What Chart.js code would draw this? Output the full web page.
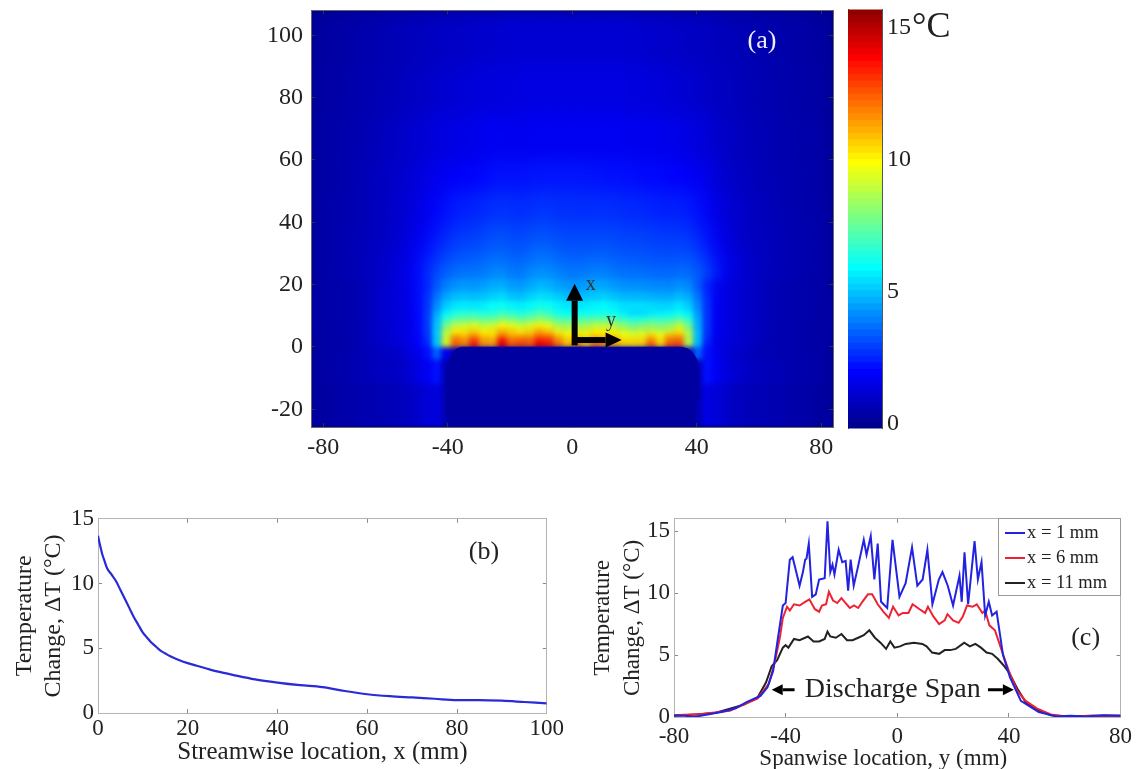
<!DOCTYPE html>
<html><head><meta charset="utf-8">
<style>html,body{margin:0;padding:0;background:#fff;overflow:hidden;width:1139px;height:769px}
canvas{position:absolute;display:block}#heatWrap{position:absolute;overflow:hidden;background:#00008f}</style>
<script src="https://cdn.jsdelivr.net/npm/chart.js@4/dist/chart.umd.js"></script></head>
<body><div id="heatWrap"></div>
<script>
// ---------- panel (a): map values, one row per band, top band first (deg C); columns every 3 mm from y=-82.5 to 82.5
const heatColumns=[-82.5,-79.5,-76.5,-73.5,-70.5,-67.5,-64.5,-61.5,-58.5,-55.5,-52.5,-49.5,-46.5,-43.5,-40.5,-37.5,-34.5,-31.5,-28.5,-25.5,-22.5,-19.5,-16.5,-13.5,-10.5,-7.5,-4.5,-1.5,1.5,4.5,7.5,10.5,13.5,16.5,19.5,22.5,25.5,28.5,31.5,34.5,37.5,40.5,43.5,46.5,49.5,52.5,55.5,58.5,61.5,64.5,67.5,70.5,73.5,76.5,79.5,82.5];
const heatRowEdges=[108,90,75,60,50,40,33,27,22,18,15,12,10,8,6,4.5,3,1.5,0,-4,-12,-25.7];
const heatRows=[
[.1,.1,.2,.2,.3,.3,.4,.4,.5,.5,.6,.6,.7,.7,.8,.8,.8,.9,.9,.9,1,1,1,1,1,1,1,1,1,1,1,1,1,1,1,.9,.9,.9,.8,.8,.8,.7,.7,.6,.6,.5,.5,.4,.4,.3,.3,.3,.2,.2,.1,.1],
[.1,.2,.2,.3,.3,.4,.4,.5,.5,.6,.7,.8,.8,.9,1,1,1.1,1.1,1.2,1.2,1.2,1.2,1.3,1.3,1.3,1.3,1.3,1.3,1.3,1.3,1.3,1.3,1.3,1.3,1.2,1.2,1.2,1.1,1.1,1,1,.9,.8,.7,.7,.6,.5,.5,.4,.4,.3,.3,.3,.2,.2,.1],
[.2,.2,.3,.3,.4,.4,.5,.6,.7,.8,.9,1,1.1,1.2,1.3,1.3,1.4,1.4,1.5,1.6,1.6,1.5,1.5,1.6,1.6,1.6,1.6,1.6,1.6,1.6,1.6,1.6,1.6,1.6,1.5,1.5,1.5,1.5,1.4,1.4,1.3,1.2,1.1,.9,.8,.7,.6,.5,.5,.4,.4,.3,.3,.3,.2,.2],
[.2,.2,.3,.3,.4,.5,.6,.7,.8,.9,1,1.2,1.3,1.5,1.6,1.7,1.8,1.8,1.9,2,2.1,2,2,2.1,2.1,2.1,2.1,2.1,2.1,2.1,2.1,2,2,2,2,1.9,1.9,1.9,1.8,1.8,1.7,1.6,1.4,1.1,.9,.8,.7,.6,.5,.5,.4,.4,.3,.3,.2,.2],
[.2,.3,.3,.4,.4,.5,.6,.7,.8,.9,1.1,1.3,1.5,1.8,2,2.2,2.3,2.3,2.4,2.5,2.6,2.5,2.4,2.5,2.6,2.6,2.5,2.5,2.5,2.5,2.5,2.5,2.5,2.4,2.4,2.4,2.3,2.3,2.2,2.3,2.2,2,1.7,1.3,1.1,.9,.8,.7,.6,.5,.5,.4,.3,.3,.3,.2],
[.2,.3,.3,.4,.5,.5,.6,.7,.8,1,1.2,1.5,1.8,2.1,2.4,2.6,2.7,2.7,2.8,3,3.1,2.9,2.8,3,3.1,3.1,2.9,2.9,2.9,2.9,2.9,2.9,2.9,2.8,2.8,2.8,2.7,2.7,2.6,2.7,2.6,2.4,2,1.6,1.2,1,.8,.7,.6,.6,.5,.4,.4,.3,.3,.2],
[.2,.3,.3,.4,.5,.6,.7,.8,.9,1.1,1.3,1.7,2.1,2.5,2.8,3,3.1,3.1,3.2,3.4,3.5,3.2,3.1,3.4,3.6,3.5,3.3,3.2,3.2,3.2,3.3,3.3,3.2,3.1,3.1,3.1,3,3,2.9,3.1,3,2.8,2.4,1.8,1.4,1.1,.9,.8,.7,.6,.5,.4,.4,.3,.3,.2],
[.2,.3,.3,.4,.5,.6,.7,.8,1,1.2,1.5,1.9,2.4,3,3.3,3.5,3.6,3.6,3.6,3.9,4,3.6,3.5,3.9,4.1,4,3.8,3.6,3.6,3.7,3.8,3.8,3.6,3.5,3.5,3.5,3.4,3.4,3.3,3.5,3.5,3.3,2.9,2.2,1.6,1.2,1,.8,.7,.6,.5,.5,.4,.3,.3,.2],
[.2,.2,.3,.3,.4,.5,.7,.9,1,1.2,1.4,1.9,2.3,3.2,3.8,4.1,4.2,4.1,4.2,4.5,4.6,4.2,4.1,4.4,4.7,4.6,4.3,4.1,4.1,4.2,4.4,4.4,4.2,4,4,4,3.9,3.9,3.8,4.1,4,3.2,2.2,1.5,1.3,1.1,.9,.8,.6,.5,.4,.4,.3,.3,.2,.2],
[.2,.2,.3,.3,.4,.5,.7,.9,1,1.2,1.4,1.9,2.5,3.6,4.4,4.7,4.8,4.7,4.8,5,5.2,4.8,4.7,5,5.3,5.2,4.9,4.7,4.7,4.8,4.9,5,4.8,4.6,4.6,4.6,4.5,4.4,4.4,4.7,4.5,3.6,2.4,1.6,1.3,1.1,.9,.8,.6,.5,.4,.4,.3,.3,.2,.2],
[.2,.2,.3,.3,.4,.5,.7,.9,1,1.2,1.4,1.9,2.6,4,5,5.4,5.5,5.4,5.5,5.8,5.9,5.6,5.5,5.7,6,5.9,5.6,5.4,5.4,5.5,5.6,5.7,5.5,5.3,5.3,5.3,5.2,5.1,5.1,5.4,5,3.9,2.5,1.6,1.3,1.1,.9,.8,.6,.5,.4,.4,.3,.3,.2,.2],
[.2,.2,.3,.3,.4,.5,.7,.9,1,1.2,1.4,1.9,2.7,4.4,5.6,6.2,6.3,6.4,6.2,6.3,6.7,6.5,6.2,6.4,6.9,6.6,6,5.8,5.8,5.9,6,6,5.9,5.5,5.2,5.2,5.4,5.5,5.6,5.9,5.5,4.2,2.6,1.6,1.3,1.1,.9,.8,.6,.5,.4,.4,.3,.3,.2,.2],
[.2,.2,.3,.3,.4,.5,.7,.9,1,1.2,1.4,1.9,2.7,4.7,6.5,7.2,7.4,7.5,7.3,7.4,7.9,7.6,7.3,7.6,8,7.7,7.1,6.9,6.9,7,7.1,7.2,7,6.6,6.2,6.3,6.6,6.6,6.7,7.1,6.4,4.4,2.6,1.6,1.3,1.1,.9,.8,.6,.5,.4,.4,.3,.3,.2,.2],
[.2,.2,.3,.3,.4,.5,.7,.9,1,1.2,1.4,1.9,2.7,4.9,7.6,8.8,9,9.3,8.8,9,9.7,9.4,8.9,9.2,9.9,9.4,8.5,8.3,8.4,8.4,8.8,8.8,8.6,8.1,7.6,7.9,8,7.8,8.1,8.9,7.5,4.6,2.6,1.6,1.3,1.1,.9,.8,.6,.5,.4,.4,.3,.3,.2,.2],
[.2,.2,.3,.3,.4,.5,.7,.9,1,1.2,1.4,1.9,2.7,5,8.5,9.8,10,10.3,9.8,10,10.8,10.4,9.9,10.2,11,10.4,9.5,9.2,9.3,9.4,9.8,9.8,9.6,9,8.5,8.8,8.9,8.7,9,9.9,8.4,4.7,2.6,1.6,1.3,1.1,.9,.8,.6,.5,.4,.4,.3,.3,.2,.2],
[.2,.2,.3,.3,.4,.5,.7,.9,1,1.2,1.4,1.9,2.6,5,8.8,10.9,10.6,11.4,10.5,10.3,11.8,11,11,11.1,12,11.8,10.6,9.9,10.1,10,10.5,10.3,10.2,9.7,9.5,9.5,10.4,9.6,10.9,11,8.5,4.8,2.5,1.5,1.3,1.1,.9,.8,.6,.5,.4,.4,.3,.3,.2,.2],
[.2,.2,.3,.3,.4,.5,.7,.9,1,1.2,1.4,1.8,2.5,5,9.2,12,11.4,12.8,11.2,11,13.5,12,12.2,12.1,13.3,13,11.5,10.4,11,10.4,11.4,11.2,10.8,10.2,10.2,10.2,11.6,10.2,11.8,12.1,8.8,4.8,2.4,1.5,1.3,1.1,.9,.8,.6,.5,.4,.4,.3,.3,.2,.2],
[.2,.2,.3,.3,.4,.5,.7,.9,1,1.2,1.4,1.8,2.4,5,9.2,12,11.6,13.2,11.4,11.2,14,12.3,12.6,12.3,13.8,13.4,12,10.6,11.8,10.6,12,11.4,11,10.4,10.3,10.4,12.2,10.4,12.4,12.6,8.5,4.6,2.2,1.4,1.3,1.1,.9,.8,.6,.5,.4,.4,.3,.3,.2,.2],
[.1,.2,.3,.3,.4,.5,.6,.7,.8,.9,1.2,1.5,2,3.2,1.5,.4,.4,.4,.4,.4,.4,.4,.4,.4,.4,.4,.4,.4,.4,.4,.4,.4,.4,.4,.4,.4,.4,.4,.4,.4,.4,3.2,2,1.5,1.2,.9,.8,.6,.5,.5,.4,.4,.3,.3,.2,.1],
[.1,.2,.3,.3,.4,.5,.6,.7,.7,.8,1,1.3,1.6,2,.5,.3,.3,.3,.3,.3,.3,.3,.3,.3,.3,.3,.3,.3,.3,.3,.3,.3,.3,.3,.3,.3,.3,.3,.3,.3,.3,.5,2,1.6,1.2,1,.8,.7,.6,.5,.5,.4,.3,.3,.2,.1],
[.1,.1,.2,.3,.3,.4,.4,.5,.5,.6,.7,.9,1.1,1.2,.5,.3,.3,.3,.3,.3,.3,.3,.3,.3,.3,.3,.3,.3,.3,.3,.3,.3,.3,.3,.3,.3,.3,.3,.3,.3,.3,.5,1.3,1.1,.9,.7,.6,.5,.5,.4,.4,.3,.3,.2,.1,.1]
];
const padOutline=[[-39.2,-25.7],[-40.5,-22],[-40.5,-8],[-39.8,-4.5],[-38.5,-2],[-37,-.6],[-35.5,-.1],[35,-.1],[37,-.6],[38.8,-2],[40,-4],[40.5,-7],[40.5,-17],[39.6,-18],[39.6,-25.7]];
const mapXTicks=[-80,-40,0,40,80];
const mapYTicks=[-20,0,20,40,60,80,100];
const colorTicks=[0,5,10,15];
// ---------- panel (b)
const streamX=[0,.5,1,1.5,2,3,4,5,6,7,8,9,10,11,12,13,14,15,16,18,20,22,25,28,30,35,40,45,50,55,60,65,70,75,80,85,90,95,100];
const streamT=[13.7,12.9,12.2,11.7,11.2,10.7,10.2,9.5,8.8,8.1,7.4,6.8,6.2,5.8,5.4,5.1,4.8,4.6,4.4,4.1,3.85,3.65,3.35,3.1,2.95,2.6,2.35,2.15,2,1.7,1.45,1.3,1.2,1.1,1,1,.95,.85,.75];
const streamXTicks=[0,20,40,60,80,100];
const streamYTicks=[0,5,10,15];
// ---------- panel (c)
const spanTicksX=[-80,-40,0,40,80];
const spanTicksY=[0,5,10,15];
const y1=[-80,-76,-73,-68,-63,-58,-54,-49,-46.5,-44.5,-42.6,-41,-40,-38.5,-37.5,-36.3,-35,-33.8,-33,-32.5,-31.7,-30.5,-29.2,-28,-26,-25,-24,-23.2,-22.5,-21,-19.7,-18.5,-17.6,-16.7,-15.6,-14,-12,-11,-9.5,-8.2,-7,-5.8,-3.6,-1.7,.8,3,5.3,7.2,9.1,10.8,12.6,14.9,16.2,18.1,20,22.3,23.1,24.1,25.4,27.7,28.9,30.2,31.5,32.8,34,35.6,37.9,40.4,44.3,50.7,57,62,68,74,80];
const t1=[.12,.1,0,.2,.4,.7,1.2,1.7,2.4,3.7,6.6,9,9.2,12.7,12.9,11.8,10.6,11.7,12.7,12.8,14,9.7,9.9,11.1,11.2,15.8,11.7,12.3,11.5,13.5,12.5,12.6,10.2,12.7,10.6,12.2,14.3,13.1,14.6,11.1,14,9.3,8.8,14.3,9.7,10.8,13.7,10.6,11.1,13.5,9.1,11.1,11.7,10.6,9,11.4,9.3,13.3,9.1,14.2,11.1,12.5,8.2,9.3,8.2,8.5,5,3.2,1.3,.4,.05,.1,.05,.15,.1];
const y6=[-80,-70,-60,-50,-46,-44,-42,-41,-39.5,-38.5,-37,-35,-33,-31.5,-29.5,-28,-27,-25.5,-24.5,-23,-21.5,-20,-18.5,-17,-15.5,-14,-12.5,-10.5,-9,-7,-5,-3,-1.5,.5,2,4,5.5,8,10,11,13,15,17,18,20,22,23.5,25,27,28.5,30.5,31.5,33,35,36.5,38,40,43,46,50,55,60,70,80];
const t6=[.15,.25,.5,1.5,2.7,4.3,6.5,8,8.9,8.6,9.1,9,9.3,9.5,8.7,8.5,9,9.1,10.1,9.4,9.2,9.6,9.2,8.8,9,8.8,9.3,9.9,9.9,9.1,8.5,8,8.9,8.2,8.4,8.4,9.1,8.7,8.4,8.9,8.1,7.5,7.8,8.3,7.8,7.6,8.1,9,8.9,9.1,8.4,8.6,7.4,7,6,5,3.7,2.1,1.3,.7,.2,.05,.1,.1];
const y11=[-80,-72,-65,-55,-50,-47,-45,-43,-41,-40,-39,-37,-35,-32,-30,-28,-26,-25,-24,-22,-20,-18,-16,-14,-12,-10,-8,-6,-4,-2.5,-1,1,3,6,9,10.5,12.5,15,17,19,21,24,26,28,30,32,34,36,38,40,43,46,50,55,62,70,80];
const t11=[.1,.2,.35,1,1.6,2.8,4.1,4.6,5.6,5.8,5.6,6.3,6.2,6.5,6.1,6.1,6.3,6.9,6.5,6.4,6.7,6.2,6.2,6.4,6.6,7,6.4,6,5.5,6.1,5.6,5.7,5.9,6,5.9,5.7,5.2,5.1,5.4,5.4,5.5,6,5.7,5.9,5.6,5.2,5.1,4.7,4.2,3.6,2.3,1.2,.6,.15,.05,.1,.1];
const spanLabels=["x = 1 mm","x = 6 mm","x = 11 mm"];

const SERIF='"Liberation Serif","Times New Roman",serif', INK='#222';
const cmin=-.2,cmax=15.7,jetStops=[[0,0,0,143],[.125,0,0,255],[.375,0,255,255],[.625,255,255,0],[.875,255,0,0],[1,128,0,0]];
function jet(v){const t=Math.min(1,Math.max(0,(v-cmin)/(cmax-cmin)));
  for(let i=1;i<jetStops.length;i++){const a=jetStops[i-1],b=jetStops[i];if(t<=b[0]){const f=(t-a[0])/(b[0]-a[0]);
    return `rgb(${a.slice(1).map((c,k)=>Math.round(c+(b[k+1]-c)*f)).join(',')})`}}return 'rgb(128,0,0)'}
Chart.defaults.font.family=SERIF;Chart.defaults.color=INK;Chart.defaults.animation=false;Chart.defaults.responsive=false;Chart.defaults.devicePixelRatio=1;
Chart.defaults.plugins.legend.display=false;Chart.defaults.plugins.tooltip.enabled=false;

function addCanvas(box,filter,parent){const c=document.createElement('canvas');c.width=box.r-box.l;c.height=box.b-box.t;
  c.style.left=box.l+'px';c.style.top=box.t+'px';if(filter)c.style.filter=filter;(parent||document.body).appendChild(c);return c.getContext('2d')}
function fixed(vals,size,dim){return{afterBuildTicks(s){s.ticks=vals.map(v=>({value:v}))},afterFit(s){s[dim]=size}}}
function axes(o){const bc=o.border||'#b4b4b4',tc=o.tick||'#8a8a8a',f={size:o.font};
  const g={drawOnChartArea:false,tickLength:-4,color:tc,drawTicks:true};
  return{
   x:{type:'linear',min:o.x[0],max:o.x[1],...fixed(o.xt,o.H,'height'),grid:g,border:{color:bc,width:1},
      ticks:{autoSkip:false,maxRotation:0,font:f,padding:o.xpad+4,callback:v=>String(v)},
      title:o.xtitle?{display:true,text:o.xtitle,font:{size:o.xtfont||o.tfont},padding:{top:0,bottom:o.tb||0}}:{display:false}},
   y:{type:'linear',min:o.y[0],max:o.y[1],...fixed(o.yt,o.W,'width'),grid:g,border:{color:bc,width:1},
      ticks:{autoSkip:false,font:f,padding:o.ypad+4,callback:v=>String(v)},
      title:o.ytitle?{display:true,text:o.ytitle,font:{size:o.tfont,lineHeight:o.tlh},padding:{top:o.tl||0,bottom:0}}:{display:false}},
   x2:{type:'linear',position:'top',min:o.x[0],max:o.x[1],...fixed(o.xt,0,'height'),grid:g,border:{color:bc,width:1},ticks:{display:false}},
   y2:{type:'linear',position:'right',min:o.y[0],max:o.y[1],...fixed(o.yt,0,'width'),grid:g,border:{color:bc,width:1},ticks:{display:false}}
  }}
function arrow(ctx,a,b,w,hw,hl,col){const d=Math.hypot(b[0]-a[0],b[1]-a[1]),u=[(b[0]-a[0])/d,(b[1]-a[1])/d],n=[-u[1],u[0]],
  m=[b[0]-u[0]*hl,b[1]-u[1]*hl];ctx.save();ctx.strokeStyle=ctx.fillStyle=col;ctx.lineWidth=w;ctx.beginPath();ctx.moveTo(a[0],a[1]);ctx.lineTo(m[0],m[1]);ctx.stroke();
  ctx.beginPath();ctx.moveTo(b[0],b[1]);ctx.lineTo(m[0]+n[0]*hw/2,m[1]+n[1]*hw/2);ctx.lineTo(m[0]-n[0]*hw/2,m[1]-n[1]*hw/2);ctx.closePath();ctx.fill();ctx.restore()}
function notes(texts,arrows,extra){return{id:'notes',afterDatasetsDraw(ch){const c=ch.ctx,X=ch.scales.x,Y=ch.scales.y;
  (arrows||[]).forEach(a=>arrow(c,[X.getPixelForValue(a.from[0]),Y.getPixelForValue(a.from[1])],[X.getPixelForValue(a.to[0]),Y.getPixelForValue(a.to[1])],a.w,a.hw,a.hl,a.col||'#000'));
  (texts||[]).forEach(t=>{c.save();c.font=`${t.size}px ${SERIF}`;c.fillStyle=t.col||INK;c.textAlign='center';c.textBaseline='middle';c.fillText(t.text,X.getPixelForValue(t.at[0]),Y.getPixelForValue(t.at[1]));c.restore()});
  if(extra)extra(ch)}}}

// --- map cells: a soft layer for the far field, a sharper one near the discharge that fades into it
const heatPlot={l:311,t:11,r:833,b:427};
const wrap=document.getElementById('heatWrap');wrap.style.cssText+=`left:${heatPlot.l}px;top:${heatPlot.t}px;width:${heatPlot.r-heatPlot.l}px;height:${heatPlot.b-heatPlot.t}px`;
function heatLayer(from,to,blur,mask){
 const ctx=addCanvas({l:0,t:0,r:heatPlot.r-heatPlot.l,b:heatPlot.b-heatPlot.t},`blur(${blur}px)`,wrap);
 if(mask){ctx.canvas.style.webkitMaskImage=mask;ctx.canvas.style.maskImage=mask}
 new Chart(ctx,{type:'bar',
 data:{labels:heatColumns,datasets:heatRows.map((row,i)=>({row,i})).slice(from,to).map(({row,i})=>({data:row.map(()=>[heatRowEdges[i+1],heatRowEdges[i]]),backgroundColor:row.map(jet),borderWidth:0,barPercentage:1.02,categoryPercentage:1,grouped:false}))},
 options:{layout:{padding:0},scales:{x:{display:false},y:{display:false,min:-25.7,max:108}}}})}
heatLayer(0,13,9);
heatLayer(7,heatRows.length,2.8,'linear-gradient(to bottom,transparent 250px,#000 300px)');
// --- map axes + pad + arrows
new Chart(addCanvas({l:220,t:-16,r:845,b:470},'blur(.6px)'),{type:'scatter',
 data:{datasets:[{data:padOutline.map(p=>({x:p[0],y:p[1]})),showLine:true,fill:'shape',backgroundColor:'#0000a0',borderColor:'#0000a0',borderWidth:1,pointRadius:0,tension:0}]},
 options:{layout:{padding:{top:11,right:12,bottom:0,left:0}},scales:axes({x:[-83.9,83.8],y:[-25.7,108],xt:mapXTicks,yt:mapYTicks,H:43,W:91,font:24,xpad:6,ypad:8,border:'#666',tick:'#333'})},
 plugins:[notes([{text:'(a)',at:[61,98],size:26,col:'#eef'},{text:'x',at:[6,20],size:20,col:'#333'},{text:'y',at:[12.5,8.3],size:20,col:'#333'}],
  [{from:[.8,.5],to:[.8,20.3],w:6,hw:17,hl:17},{from:[.8,2.2],to:[15.9,2.2],w:6,hw:15,hl:16}])]});
// --- colour bar
const colorBands=[];for(let v=cmin;v<cmax-.01;v+=(cmax-cmin)/64)colorBands.push(v);
const cbAxes=axes({x:[0,1],y:[cmin,cmax],xt:[],yt:colorTicks,H:0,W:0,font:24,xpad:0,ypad:4,border:'#555',tick:'#222'});
cbAxes.y.position='right';cbAxes.y.afterFit=s=>{s.width=78};cbAxes.y2.position='left';cbAxes.y2.afterFit=s=>{s.width=0};
cbAxes.y.grid.tickLength=-3;cbAxes.y2.grid.tickLength=-3;
new Chart(addCanvas({l:848,t:-13,r:960,b:451},'blur(.6px)'),{type:'bar',
 data:{labels:['T'],datasets:colorBands.map(v=>({data:[[v,v+(cmax-cmin)/64+.02]],backgroundColor:jet(v),borderWidth:0,barPercentage:1,categoryPercentage:1,grouped:false,xAxisID:'xb'}))},
 options:{layout:{padding:{top:10,right:0,bottom:12,left:0}},scales:{xb:{type:'category',display:false},y:cbAxes.y,y2:cbAxes.y2}},
 plugins:[{id:'deg',afterDraw(ch){const c=ch.ctx;c.save();c.font=`36px ${SERIF}`;c.fillStyle=INK;c.textBaseline='middle';c.fillText('°C',ch.chartArea.right+30,ch.scales.y.getPixelForValue(15));c.restore()}}]});
// --- panel (b)
new Chart(addCanvas({l:0,t:497,r:570,b:769},'blur(.6px)'),{type:'line',
 data:{datasets:[{data:streamX.map((x,i)=>({x,y:streamT[i]})),borderColor:'#2a2ad6',borderWidth:2.2,pointRadius:0,cubicInterpolationMode:'monotone'}]},
 options:{layout:{padding:{top:18,right:20,bottom:0,left:0}},scales:axes({x:[0,100],y:[0,15],xt:streamXTicks,yt:streamYTicks,H:56,W:98,font:23,tfont:24,xtfont:25,tlh:1.21,xpad:2,ypad:4,tb:2,xtitle:'Streamwise location, x (mm)',ytitle:['Temperature','Change, ΔT (°C)'],tl:10})},
 plugins:[notes([{text:'(b)',at:[86,12.4],size:26}])]});
// --- panel (c)
const lines=[[y1,t1,'#2222e0'],[y6,t6,'#ee2233'],[y11,t11,'#222222']];
new Chart(addCanvas({l:580,t:497,r:1142,b:775},'blur(.6px)'),{type:'line',
 data:{datasets:lines.map((l,i)=>({label:spanLabels[i],data:l[0].map((x,k)=>({x,y:l[1][k]})),borderColor:l[2],borderWidth:2,pointRadius:0,tension:0}))},
 options:{layout:{padding:{top:15,right:17,bottom:0,left:0}},scales:axes({x:[-80,80],y:[0,16],xt:spanTicksX,yt:spanTicksY,H:58,W:94,font:23,tfont:23,tlh:1.3,xpad:6,ypad:4,ytitle:['Temperature','Change, ΔT (°C)'],tl:8})},
 plugins:[notes([{text:'(c)',at:[67.5,6.4],size:26},{text:'Discharge Span',at:[-1.6,2.2],size:28},{text:'Spanwise location, y (mm)',at:[-5,-3.35],size:23}],
  [{from:[-36.8,2.2],to:[-45,2.2],w:3,hw:11,hl:11},{from:[32.5,2.2],to:[41.8,2.2],w:3,hw:11,hl:11}],
  ch=>{const c=ch.ctx,L=998-580,T=518-497,W=122,H=77;c.save();c.fillStyle='#fff';c.strokeStyle='#999';c.lineWidth=1;c.fillRect(L,T,W,H);c.strokeRect(L+.5,T+.5,W,H);
   ch.data.datasets.forEach((d,i)=>{const yy=T+15+i*25;c.strokeStyle=d.borderColor;c.lineWidth=2;c.beginPath();c.moveTo(L+7,yy);c.lineTo(L+27,yy);c.stroke();
   c.fillStyle=INK;c.font=`18.5px ${SERIF}`;c.textBaseline='middle';c.textAlign='left';c.fillText(d.label,L+29,yy)});c.restore()})]});
</script></body></html>
